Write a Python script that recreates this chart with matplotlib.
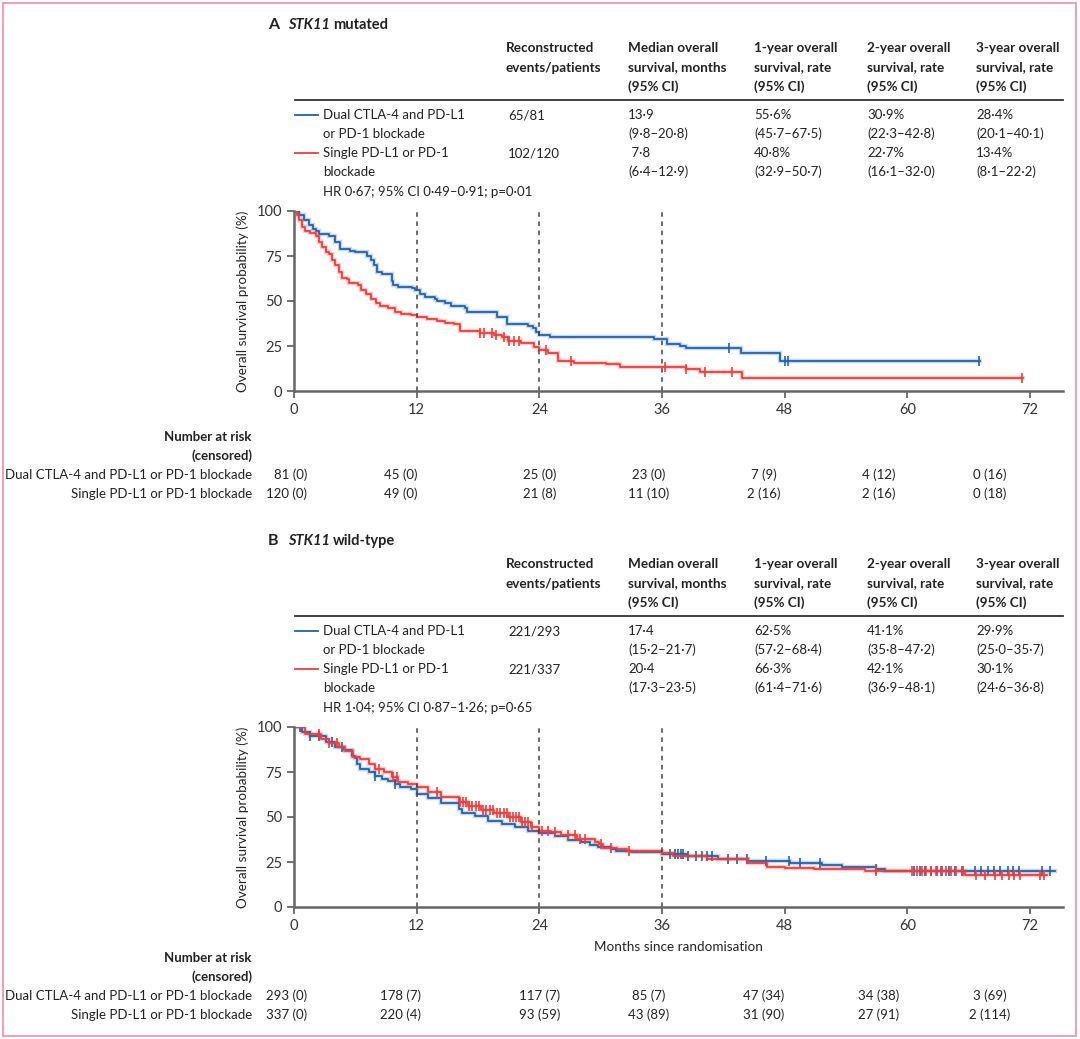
import numpy as np
import matplotlib
matplotlib.use("Agg")
import matplotlib.pyplot as plt
from matplotlib.patches import Rectangle

W, H = 1080, 1039
FONT = "Lato"
FS = 9.5

BLUE = "#1f63ad"
RED = "#f23b3b"

############################################
# DATA
############################################

# Panel A: STK11 mutated (step start times in months, survival %)
a_dual_t = [0, 0.5, 1.0, 1.5, 1.9, 2.2, 2.4, 3.4, 4.05, 4.5, 5.5, 6.0, 7.1, 7.5, 7.8,
            8.1, 8.6, 9.6, 9.7, 10.2, 11.5, 11.8, 12.3, 12.8, 13.8, 14.0, 14.8, 15.4,
            16.7, 16.9, 19.9, 20.8, 22.9, 23.4, 23.7, 24.0, 25.0, 35.2, 36.5, 37.8,
            38.3, 43.7, 47.5]
a_dual_s = [100, 98, 95, 92, 90, 89, 87, 86, 83, 79, 78, 77, 75, 73, 70,
            66, 65, 61, 59, 58, 57, 56, 54, 52, 51, 50, 49, 47,
            46, 44, 41, 37, 36, 35, 33, 31, 30, 28.7, 26, 25,
            23.7, 21, 16.5]
a_dual_end = 67.1
a_dual_cens = [42.6, 48.0, 48.3, 67.0]

a_single_t = [0, 0.3, 0.5, 0.8, 1.1, 1.6, 2.2, 2.4, 2.7, 3.1, 3.4, 3.7, 4.05, 4.4, 4.7,
              5.2, 5.4, 6.3, 6.6, 7.0, 7.5, 8.0, 8.4, 9.2, 9.9, 10.5, 11.4, 12.0, 13.0,
              14.0, 14.8, 15.7, 16.2, 18.2, 19.6, 20.3, 20.9, 22.2, 23.5, 24.0, 24.8,
              25.8, 27.4, 30.5, 31.9, 38.3, 39.7, 43.8]
a_single_s = [100, 98, 95, 91, 89, 88, 86, 83, 80, 77, 76, 73, 70, 66, 63,
              62, 60, 59, 56, 54, 51, 49, 47, 46, 44, 43, 42, 41, 40,
              39, 38, 37, 33.5, 32.4, 31, 30, 28, 26.5, 24.6, 22.8, 21,
              16.9, 15.7, 15, 13.5, 12, 10.4, 7]
a_single_end = 71.3
a_single_cens = [18.2, 18.6, 19.4, 19.8, 20.5, 21.0, 21.5, 22.0, 24.7, 27.1,
                 36.3, 38.3, 40.2, 42.8, 71.2]

# Panel B: STK11 wild-type
b_dual_t = [0, 0.8, 1.6, 3.1, 4.05, 4.9, 5.7, 6.0, 6.2, 6.5, 7.3, 7.9, 8.6, 9.2, 9.9,
            10.4, 11.4, 12.0, 13.1, 14.4, 16.1, 16.4, 17.7, 19.0, 20.3, 21.6, 22.9,
            24.0, 25.5, 26.8, 28.1, 29.0, 29.7, 31.0, 31.5, 33.0, 36.0, 38.4, 41.5,
            44.4, 48.5, 51.7, 53.6, 56.9, 57.8]
b_dual_s = [100, 97, 95, 91.6, 88.8, 87, 84, 82.7, 79.5, 76.8, 74.9, 73, 71.2, 70, 68.4,
            66.5, 65.6, 62.8, 60.4, 57.8, 54.5, 52.2, 50.7, 48, 46, 44.2, 42.4,
            41.1, 39.2, 37.2, 35.9, 34.4, 33.3, 32.0, 31.1, 30.5, 29.6, 28.3, 26.9,
            25.4, 24.6, 23.3, 22.4, 21.3, 20.0]
b_dual_end = 74.4
b_dual_cens = [0.6, 1.6, 2.4, 3.7, 4.7, 7.9, 9.9, 36.8, 37.3, 37.6, 37.9, 38.1, 38.5,
               39.3, 39.9, 40.4, 40.9, 42.5, 43.3, 44.3, 46.2, 48.4, 49.5, 51.5, 56.9,
               60.7, 61.2, 61.7, 62.3, 62.9, 63.4, 64.1, 64.7, 65.3, 66.6, 67.2, 67.9,
               68.5, 69.1, 69.8, 70.3, 70.9, 73.2, 74.0]

b_single_t = [0, 1.1, 2.6, 3.4, 4.4, 5.0, 5.8, 6.5, 7.3, 7.9, 8.8, 9.6, 10.2, 11.2,
              12.0, 13.1, 14.4, 16.1, 17.0, 18.3, 19.6, 20.9, 22.2, 23.2, 24.0, 25.1,
              26.1, 27.7, 29.4, 29.8, 30.2, 31.6, 32.6, 36.0, 37.1, 40.4, 44.4, 46.3,
              48.0, 50.9, 55.9, 65.6]
b_single_s = [100, 96, 93.5, 91, 88.8, 86.4, 83.3, 82.3, 79.5, 76.8, 74.9, 72.1, 69.3, 68.4,
              66.5, 63.8, 61, 58.2, 55.9, 54.1, 52.2, 49.8, 47, 44.2, 42.4, 41.4,
              40, 37.7, 35.9, 34.8, 33, 32, 31.1, 29.8, 28.3, 26.9, 24.6, 22.4,
              21.9, 20.9, 20.0, 17.6]
b_single_end = 73.7
b_single_cens = [2.4, 3.4, 4.2, 8.3, 9.7, 10.1, 14.0, 16.2, 16.5, 16.8, 17.1, 17.4,
                 17.8, 18.1, 18.5, 18.8, 19.2, 19.5, 19.9, 20.2, 20.5, 20.8, 21.1, 21.4,
                 21.7, 22.0, 22.3, 22.6, 22.9, 23.3, 24.3, 24.8, 25.5, 26.8, 27.5, 28.0,
                 28.5, 30.0, 31.0, 32.8, 56.9, 60.5, 60.9, 61.4, 61.8, 62.3, 62.8, 63.3,
                 63.8, 64.3, 64.8, 65.4, 66.7, 67.6, 68.6, 69.3, 69.9, 70.4, 71.0, 73.0,
                 73.4]

# Tables
header_cols = [["Reconstructed", "events/patients"],
               ["Median overall", "survival, months", "(95% CI)"],
               ["1-year overall", "survival, rate", "(95% CI)"],
               ["2-year overall", "survival, rate", "(95% CI)"],
               ["3-year overall", "survival, rate", "(95% CI)"]]
arm_labels = [["Dual CTLA-4 and PD-L1", "or PD-1 blockade"],
              ["Single PD-L1 or PD-1", "blockade"]]
risk_labels = ["Dual CTLA-4 and PD-L1 or PD-1 blockade", "Single PD-L1 or PD-1 blockade"]

a_events = ["65/81", "102/120"]
a_median = [["13·9", "(9·8–20·8)"], [" 7·8", "(6·4–12·9)"]]
a_yr1 = [["55·6%", "(45·7–67·5)"], ["40·8%", "(32·9–50·7)"]]
a_yr2 = [["30·9%", "(22·3–42·8)"], ["22·7%", "(16·1–32·0)"]]
a_yr3 = [["28·4%", "(20·1–40·1)"], ["13·4%", "(8·1–22·2)"]]
a_hr = "HR 0·67; 95% CI 0·49–0·91; p=0·01"

b_events = ["221/293", "221/337"]
b_median = [["17·4", "(15·2–21·7)"], ["20·4", "(17·3–23·5)"]]
b_yr1 = [["62·5%", "(57·2–68·4)"], ["66·3%", "(61·4–71·6)"]]
b_yr2 = [["41·1%", "(35·8–47·2)"], ["42·1%", "(36·9–48·1)"]]
b_yr3 = [["29·9%", "(25·0–35·7)"], ["30·1%", "(24·6–36·8)"]]
b_hr = "HR 1·04; 95% CI 0·87–1·26; p=0·65"

risk_times = [0, 12, 24, 36, 48, 60, 72]
a_risk_dual = ["81 (0)", "45 (0)", "25 (0)", "23 (0)", "7 (9)", "4 (12)", "0 (16)"]
a_risk_single = ["120 (0)", "49 (0)", "21 (8)", "11 (10)", "2 (16)", "2 (16)", "0 (18)"]
b_risk_dual = ["293 (0)", "178 (7)", "117 (7)", "85 (7)", "47 (34)", "34 (38)", "3 (69)"]
b_risk_single = ["337 (0)", "220 (4)", "93 (59)", "43 (89)", "31 (90)", "27 (91)", "2 (114)"]


############################################
# HELPERS
############################################

def fx(x):
    return x / W


def fy(y):
    return 1 - y / H


def txt(fig, x, y, s, **kw):
    kw.setdefault("fontsize", FS)
    kw.setdefault("va", "center")
    kw.setdefault("family", FONT)
    kw.setdefault("color", "#222222")
    fig.text(fx(x), fy(y), s, **kw)


def km_line(ax, t, s, end, cens, color):
    t = np.asarray(t, float)
    s = np.asarray(s, float)
    tt = np.append(t, end)
    ss = np.append(s, s[-1])
    ax.step(tt, ss, where="post", color=color, lw=3.2, alpha=0.25, solid_joinstyle="miter")
    ax.step(tt, ss, where="post", color=color, lw=1.3)
    c = np.asarray(cens, float)
    cy = s[np.searchsorted(t, c, side="right") - 1]
    ax.plot(c, cy, ls="none", marker="|", ms=7, mew=1.2, color=color)


def panel(fig, top, letter, sub, events, median, yr1, yr2, yr3, hr,
          curves, risk_dual, risk_single, risk_top, xlabel):
    # title
    txt(fig, 268, top, letter, fontweight="bold", fontsize=11.5)
    txt(fig, 288, top, "STK11", fontweight="bold", style="italic", fontsize=10.5)
    txt(fig, 333, top, sub, fontweight="bold", fontsize=10.5)

    # table header
    col_x = [506, 628, 754, 867, 976]
    hy = top + 23
    for cx, lines in zip(col_x, header_cols):
        for i, line in enumerate(lines):
            txt(fig, cx, hy + i * 19.5, line, fontweight="bold", fontsize=9.7)
    line_y = top + 75
    fig.add_artist(plt.Line2D([fx(295), fx(1063)], [fy(line_y), fy(line_y)],
                              color="#333333", lw=1.3))

    # table rows
    row_y = [top + 90, top + 128]
    colors = [BLUE, RED]
    for i in range(2):
        y0 = row_y[i]
        fig.add_artist(plt.Line2D([fx(295), fx(318)], [fy(y0), fy(y0)],
                                  color=colors[i], lw=1.3))
        txt(fig, 323, y0, arm_labels[i][0])
        txt(fig, 323, y0 + 19, arm_labels[i][1])
        txt(fig, 508, y0, events[i])
        for cx, vals in zip(col_x[1:], [median, yr1, yr2, yr3]):
            txt(fig, cx, y0, vals[i][0])
            txt(fig, cx, y0 + 19, vals[i][1])
    txt(fig, 323, top + 167, hr)

    # KM axes
    ax_top = top + 186
    ax = fig.add_axes([fx(294), fy(ax_top + 180), fx(1063) - fx(294), 180 / H])
    for (t, s, end, cens), c in zip(curves, colors):
        km_line(ax, t, s, end, cens, c)
    for v in [12, 24, 36]:
        ax.axvline(v, ymin=0, ymax=1, color="#444444", lw=1.1, ls=(0, (3, 3)))
    ax.set_xlim(0, 72 * 769 / 736)
    ax.set_ylim(0, 100)
    ax.set_xticks(risk_times)
    ax.set_yticks([0, 25, 50, 75, 100])
    for sp in ["top", "right"]:
        ax.spines[sp].set_visible(False)
    for sp in ["left", "bottom"]:
        ax.spines[sp].set_color("#666666")
        ax.spines[sp].set_linewidth(1.8)
    ax.tick_params(length=5, width=1.3, color="#666666", labelcolor="#333333",
                   labelsize=10.5)
    for lab in ax.get_xticklabels() + ax.get_yticklabels():
        lab.set_family(FONT)
    txt(fig, 243, ax_top + 90, "Overall survival probability (%)", rotation=90,
        ha="center", fontsize=9.7)
    if xlabel:
        txt(fig, 678, ax_top + 220, xlabel, ha="center", fontsize=9.7)

    # number at risk
    txt(fig, 252, risk_top, "Number at risk", ha="right", fontweight="bold")
    txt(fig, 252, risk_top + 19, "(censored)", ha="right", fontweight="bold")
    txt(fig, 252, risk_top + 38, risk_labels[0], ha="right")
    txt(fig, 252, risk_top + 57, risk_labels[1], ha="right")
    risk_x = [294, 401, 540, 649, 764, 879, 990]
    for j, (d, sg) in enumerate(zip(risk_dual, risk_single)):
        ha = "right" if j == 0 else "center"
        xx = 307 if j == 0 else risk_x[j]
        txt(fig, xx, risk_top + 38, d, ha=ha)
        txt(fig, xx, risk_top + 57, sg, ha=ha)


############################################
# FIGURE
############################################

fig = plt.figure(figsize=(W / 100, H / 100), dpi=100)
fig.patch.set_facecolor("white")
fig.add_artist(Rectangle((fx(3), fy(1036)), fx(1076) - fx(3), (1036 - 3) / H,
                         fill=False, edgecolor="#e6a3bb", lw=1.5))

panel(fig, 25, "A", "mutated", a_events, a_median, a_yr1, a_yr2, a_yr3, a_hr,
      [(a_dual_t, a_dual_s, a_dual_end, a_dual_cens),
       (a_single_t, a_single_s, a_single_end, a_single_cens)],
      a_risk_dual, a_risk_single, 437, None)

panel(fig, 541, "B", "wild-type", b_events, b_median, b_yr1, b_yr2, b_yr3, b_hr,
      [(b_dual_t, b_dual_s, b_dual_end, b_dual_cens),
       (b_single_t, b_single_s, b_single_end, b_single_cens)],
      b_risk_dual, b_risk_single, 958, "Months since randomisation")

fig.savefig("out.png", dpi=100, facecolor="white")
